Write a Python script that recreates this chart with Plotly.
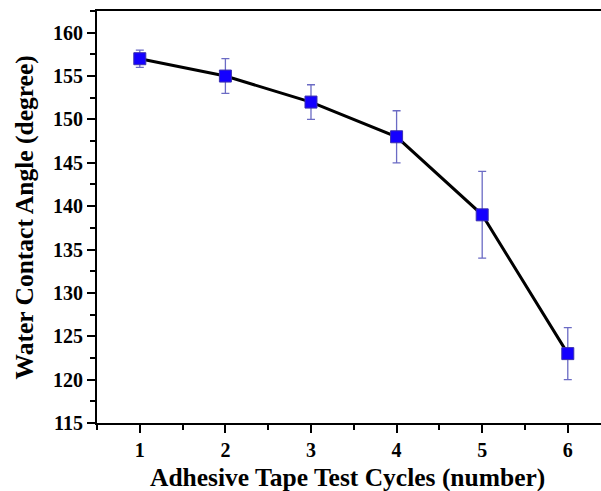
import plotly.graph_objects as go

cycles = [1, 2, 3, 4, 5, 6]
angle = [157, 155, 152, 148, 139, 123]
err_plus = [1, 2, 2, 3, 5, 3]
err_minus = [1, 2, 2, 3, 5, 3]

x_ticks = [1, 2, 3, 4, 5, 6]
y_ticks = [115, 120, 125, 130, 135, 140, 145, 150, 155, 160]

x_title = "Adhesive Tape Test Cycles (number)"
y_title = "Water Contact Angle (degree)"

font_family = "Liberation Serif, Times New Roman, serif"

fig = go.Figure()
fig.add_trace(go.Scatter(
    x=cycles, y=angle,
    mode="lines",
    line=dict(color="black", width=3),
    showlegend=False,
    hoverinfo="skip",
))
fig.add_trace(go.Scatter(
    x=cycles, y=angle,
    mode="markers",
    marker=dict(symbol="square", size=12, color="#1400ff",
                line=dict(color="#3a2fb0", width=1)),
    error_y=dict(type="data", symmetric=False, array=err_plus, arrayminus=err_minus,
                 color="#6b6bc4", thickness=1.3, width=4),
    showlegend=False,
))

fig.update_layout(
    width=601, height=491,
    margin=dict(l=97, r=0, t=11, b=68, autoexpand=False),
    paper_bgcolor="white", plot_bgcolor="white",
    font=dict(family=font_family, color="black"),
)
fig.update_xaxes(
    range=[0.5, 6.388],
    tickvals=x_ticks,
    ticks="outside", ticklen=8, tickwidth=2, tickcolor="black",
    minor=dict(dtick=0.5, tick0=0.5, ticks="outside", ticklen=5, tickwidth=2, tickcolor="black"),
    showline=True, linecolor="black", linewidth=2, mirror=True,
    showgrid=False, zeroline=False, automargin=False,
    tickfont=dict(family=font_family, size=20, weight="bold"),
)
fig.update_yaxes(
    range=[115, 162.5],
    tickvals=y_ticks,
    ticks="outside", ticklen=8, tickwidth=2, tickcolor="black",
    minor=dict(dtick=2.5, tick0=115, ticks="outside", ticklen=5, tickwidth=2, tickcolor="black"),
    showline=True, linecolor="black", linewidth=2, mirror=False,
    showgrid=False, zeroline=False, automargin=False,
    tickfont=dict(family=font_family, size=20, weight="bold"),
)

fig.add_annotation(
    text=x_title, xref="paper", yref="paper", x=0.497, y=0,
    xanchor="center", yanchor="middle", yshift=-54, showarrow=False, borderpad=0,
    font=dict(family=font_family, size=25.5, weight="bold", color="black"),
)
fig.add_annotation(
    text=y_title, xref="paper", yref="paper", x=0, y=0.499,
    xanchor="center", yanchor="middle", xshift=-73, textangle=-90, showarrow=False,
    font=dict(family=font_family, size=25.5, weight="bold", color="black"),
)

fig.write_html(
    "out.html",
    config={"displayModeBar": False},
    post_script="document.body.style.margin='0';document.body.style.overflow='hidden';",
)
